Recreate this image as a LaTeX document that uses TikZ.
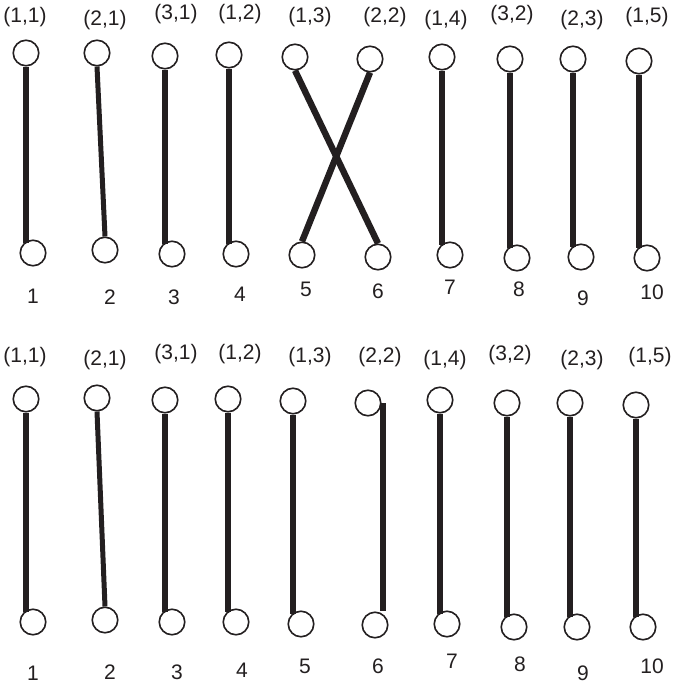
\documentclass[tikz,border=0pt]{standalone}
\usepackage{fontspec}
\setmainfont{Liberation Sans}
\usepackage{xcolor}
\usepackage{tikz}
\usetikzlibrary{positioning}
\definecolor{ink}{HTML}{231F20}
\tikzset{
  vertex/.style={circle, draw=ink, line width=1.6pt, minimum size=25.5pt, inner sep=0pt},
  pair/.style={text=ink, font=\fontsize{21}{23}\selectfont, inner sep=0pt},
  idx/.style={text=ink, font=\fontsize{21}{23}\selectfont, inner sep=0pt},
  link/.style={draw=ink, line width=6.4pt},
  slimlink/.style={draw=ink, line width=5pt}
}
\begin{document}
\begin{tikzpicture}[x=1pt, y=-1pt]
\useasboundingbox (0,0) rectangle (677,685);
% Upper matching: labels
\node[pair] (p1) at (25,17) {(1,1)};
\node[pair] (p2) at (105,20) {(2,1)};
\node[pair] (p3) at (176,14) {(3,1)};
\node[pair] (p4) at (240,14) {(1,2)};
\node[pair] (p5) at (310,17) {(1,3)};
\node[pair] (p6) at (385,17) {(2,2)};
\node[pair] (p7) at (446,20) {(1,4)};
\node[pair] (p8) at (512,15) {(3,2)};
\node[pair] (p9) at (582,20) {(2,3)};
\node[pair] (p10) at (647,17) {(1,5)};

\node[vertex] (a1) at (26,53) {};
\node[vertex] (a2) at (97,53) {};
\node[vertex] (a3) at (165,56) {};
\node[vertex] (a4) at (229,55) {};
\node[vertex] (a5) at (295,57) {};
\node[vertex] (a6) at (370,59) {};
\node[vertex] (a7) at (442,57) {};
\node[vertex] (a8) at (510,59) {};
\node[vertex] (a9) at (573,59) {};
\node[vertex] (a10) at (639,61) {};

\node[vertex] (b1) at (33,253) {};
\node[vertex] (b2) at (105,250) {};
\node[vertex] (b3) at (172,254) {};
\node[vertex] (b4) at (236,254) {};
\node[vertex] (b5) at (302,255) {};
\node[vertex] (b6) at (378,257) {};
\node[vertex] (b7) at (450,255) {};
\node[vertex] (b8) at (517,258) {};
\node[vertex] (b9) at (581,257) {};
\node[vertex] (b10) at (647,258) {};

\node[idx] (n1) at (33,296) {1};
\node[idx] (n2) at (110,297) {2};
\node[idx] (n3) at (174,297) {3};
\node[idx] (n4) at (240,294) {4};
\node[idx] (n5) at (306,289) {5};
\node[idx] (n6) at (378,291) {6};
\node[idx] (n7) at (450,287) {7};
\node[idx] (n8) at (519,289) {8};
\node[idx] (n9) at (583,298) {9};
\node[idx] (n10) at (652,292) {10};

\draw[link] (a1.south) -- (a1.south |- b1.north west);
\draw[slimlink] (a2.south) -- (b2.north);
\draw[link] (a3.south) -- (a3.south |- b3.north west);
\draw[link] (a4.south) -- (a4.south |- b4.north west);
\draw[link] (a5.south) -- (b6.north);
\draw[link] (a6.south) -- (b5.north);
\draw[link] (a7.south) -- (a7.south |- b7.north west);
\draw[link] (a8.south) -- (a8.south |- b8.north west);
\draw[link] (a9.south) -- (a9.south |- b9.north west);
\draw[link] (a10.south) -- (a10.south |- b10.north west);

% Lower matching
\node[pair] (q1) at (25,357) {(1,1)};
\node[pair] (q2) at (105,360) {(2,1)};
\node[pair] (q3) at (176,354) {(3,1)};
\node[pair] (q4) at (240,354) {(1,2)};
\node[pair] (q5) at (310,357) {(1,3)};
\node[pair] (q6) at (380,357) {(2,2)};
\node[pair] (q7) at (445,360) {(1,4)};
\node[pair] (q8) at (510,355) {(3,2)};
\node[pair] (q9) at (582,360) {(2,3)};
\node[pair] (q10) at (650,357) {(1,5)};

\node[vertex] (c1) at (26,399) {};
\node[vertex] (c2) at (97,398) {};
\node[vertex] (c3) at (165,400) {};
\node[vertex] (c4) at (228,399) {};
\node[vertex] (c5) at (293,401) {};
\node[vertex] (c6) at (368,403) {};
\node[vertex] (c7) at (440,400) {};
\node[vertex] (c8) at (507,403) {};
\node[vertex] (c9) at (570,403) {};
\node[vertex] (c10) at (636,405) {};

\node[vertex] (d1) at (33,622) {};
\node[vertex] (d2) at (105,620) {};
\node[vertex] (d3) at (172,622) {};
\node[vertex] (d4) at (236,622) {};
\node[vertex] (d5) at (301,624) {};
\node[vertex] (d6) at (375,625) {};
\node[vertex] (d7) at (447,624) {};
\node[vertex] (d8) at (514,627) {};
\node[vertex] (d9) at (577,627) {};
\node[vertex] (d10) at (643,627) {};

\node[idx] (m1) at (33,673) {1};
\node[idx] (m2) at (110,672) {2};
\node[idx] (m3) at (177,672) {3};
\node[idx] (m4) at (242,670) {4};
\node[idx] (m5) at (305,666) {5};
\node[idx] (m6) at (378,666) {6};
\node[idx] (m7) at (452,661) {7};
\node[idx] (m8) at (520,664) {8};
\node[idx] (m9) at (583,673) {9};
\node[idx] (m10) at (652,666) {10};

\draw[link] (c1.south) -- (c1.south |- d1.north west);
\draw[slimlink] (c2.south) -- (d2.north);
\draw[link] (c3.south) -- (c3.south |- d3.north west);
\draw[link] (c4.south) -- (c4.south |- d4.north west);
\draw[link] (c5.south) -- (c5.south |- d5.north west);
\draw[link] ([xshift=1.5pt]c6.east) -- ([xshift=1.5pt]c6.east |- d6.north);
\draw[link] (c7.south) -- (c7.south |- d7.north west);
\draw[link] (c8.south) -- (c8.south |- d8.north west);
\draw[link] (c9.south) -- (c9.south |- d9.north west);
\draw[link] (c10.south) -- (c10.south |- d10.north west);
\end{tikzpicture}
\end{document}
